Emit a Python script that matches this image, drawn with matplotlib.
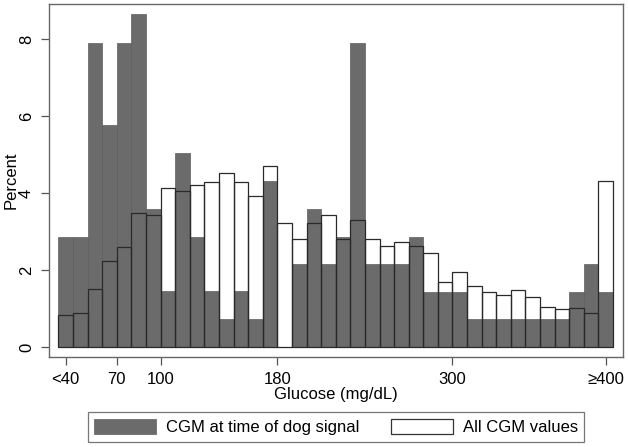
import numpy as np
import matplotlib
matplotlib.use("Agg")
import matplotlib.pyplot as plt
from matplotlib.patches import Patch

plt.rcParams['font.family'] = ['Liberation Sans', 'DejaVu Sans']

# bins of 10 mg/dL, first bin is <40, last bin is >=400
bin_left = np.arange(30, 410, 10)

dog_signal = [2.88, 2.88, 7.91, 5.77, 7.91, 8.66, 3.59, 1.46, 5.06, 2.88,
              1.46, 0.73, 1.46, 0.73, 4.33, 0.0, 2.16, 3.59, 2.16, 2.87,
              7.92, 2.16, 2.16, 2.16, 2.87, 1.45, 1.45, 1.45, 0.73, 0.73,
              0.73, 0.73, 0.73, 0.73, 0.73, 1.45, 2.16, 1.45]
all_cgm = [0.84, 0.90, 1.51, 2.25, 2.62, 3.48, 3.44, 4.13, 4.06, 4.22,
           4.30, 4.54, 4.29, 3.94, 4.71, 3.24, 2.81, 3.24, 3.45, 2.81,
           3.32, 2.82, 2.63, 2.73, 2.63, 2.46, 1.71, 1.97, 1.60, 1.43,
           1.36, 1.50, 1.32, 1.06, 0.99, 1.02, 0.90, 4.32]

tick_pos = [35, 70, 100, 180, 300, 405]
tick_lab = ['<40', '70', '100', '180', '300', '\u2265400']

fig = plt.figure(figsize=(6.28, 4.47), dpi=100)
ax = fig.add_axes([49.3/628, 1-356.7/447, (623-49.3)/628, (356.7-4)/447])

gray = '#6b6b6b'
ax.bar(bin_left, dog_signal, width=10, align='edge', color=gray,
       edgecolor='#5e5e5e', linewidth=0.5, zorder=2)
ax.bar(bin_left, all_cgm, width=10, align='edge', facecolor='none',
       edgecolor='#2a2a2a', linewidth=0.9, zorder=3)

ax.set_xlim(23.8, 416.8)
ax.set_ylim(-0.24, 8.92)
ax.set_xticks(tick_pos)
ax.set_xticklabels(tick_lab)
ax.set_yticks([0, 2, 4, 6, 8])
for lab in ax.get_yticklabels():
    lab.set_rotation(90)
    lab.set_va('center')
ax.tick_params(axis='both', labelsize=12, color='#555555', length=6,
               width=0.9, pad=5)
for s in ax.spines.values():
    s.set_color('#666666')
    s.set_linewidth(1.0)

ax.set_xlabel('Glucose (mg/dL)', fontsize=12, labelpad=0)
ax.set_ylabel('Percent', fontsize=12)
ax.yaxis.set_label_coords(-0.053, 0.5)

handles = [Patch(facecolor=gray, edgecolor='#5e5e5e', linewidth=0.5),
           Patch(facecolor='white', edgecolor='#333333', linewidth=0.9)]
leg = fig.legend(handles, ['CGM at time of dog signal', 'All CGM values'],
                 loc='center', bbox_to_anchor=(0.535, 0.045), ncol=2,
                 fontsize=12, frameon=True, fancybox=False,
                 handlelength=3.7, handleheight=1.0, handletextpad=0.6,
                 columnspacing=1.9, borderpad=0.4)
leg.get_frame().set_edgecolor('#555555')
leg.get_frame().set_linewidth(0.9)

fig.savefig('out.png', dpi=100)
